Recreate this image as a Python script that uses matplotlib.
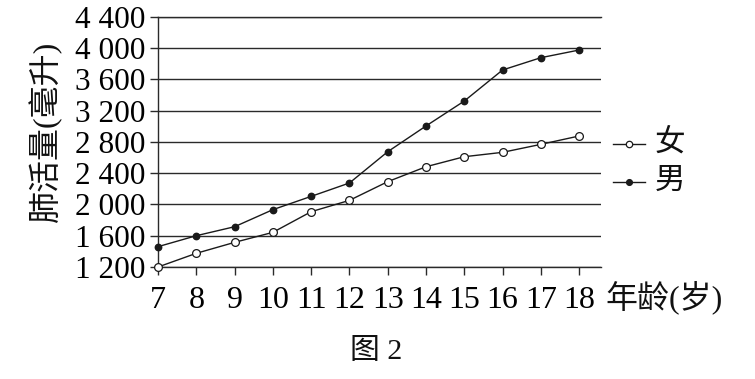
import matplotlib
matplotlib.use('Agg')
import matplotlib.pyplot as plt
from matplotlib.lines import Line2D

# ---- data ----
ages = [7, 8, 9, 10, 11, 12, 13, 14, 15, 16, 17, 18]
female = [1200, 1375, 1515, 1643, 1907, 2052, 2291, 2482, 2610, 2666, 2768, 2875]
male = [1460, 1600, 1715, 1933, 2103, 2274, 2674, 3003, 3322, 3719, 3876, 3974]
yticks = [1200, 1600, 2000, 2400, 2800, 3200, 3600, 4000, 4400]
ytick_labels = ['1 200', '1 600', '2 000', '2 400', '2 800', '3 200', '3 600', '4 000', '4 400']
series_labels = ['女', '男']
ylabel = '肺活量(毫升)'
xlabel = '年龄(岁)'
caption = '图 2'

W, H = 755, 379
fig = plt.figure(figsize=(W / 100, H / 100), dpi=100)
fig.patch.set_facecolor('white')

ax_left, ax_right, ax_top, ax_bottom = 158, 601, 16.7, 267
ax = fig.add_axes([ax_left / W, (H - ax_bottom) / H,
                   (ax_right - ax_left) / W, (ax_bottom - ax_top) / H])

ax.set_xlim(7, 18.57)
ax.set_ylim(1200, 4400)

line_col = '#1a1a1a'
grid_col = '#2a2a2a'

ax.plot(ages, male, color=line_col, lw=1.0, marker='o', ms=4.6,
        mfc=line_col, mec=line_col, zorder=3, clip_on=False)
ax.plot(ages, female, color=line_col, lw=1.0, marker='o', ms=5.6,
        mfc='white', mec=line_col, mew=0.9, zorder=4, clip_on=False)

ax.set_yticks(yticks)
ax.set_yticklabels(ytick_labels)
ax.set_xticks(ages)
ax.set_xticklabels([str(a) for a in ages])

serif = ['Liberation Serif', 'DejaVu Serif']
for lab in ax.get_yticklabels():
    lab.set_fontfamily(serif)
    lab.set_fontsize(22.5)
for lab in ax.get_xticklabels():
    lab.set_fontfamily(serif)
    lab.set_fontsize(23)

ax.yaxis.grid(True, color=grid_col, lw=1.0)
ax.set_axisbelow(True)
ax.tick_params(axis='y', direction='out', length=6, width=1.0, color=grid_col, pad=3)
ax.tick_params(axis='x', direction='out', length=6, width=1.0, color=grid_col, pad=8)
for s in ['left', 'top', 'bottom']:
    ax.spines[s].set_color(grid_col)
    ax.spines[s].set_linewidth(1.0)
ax.spines['right'].set_visible(False)

cjk = ['Liberation Serif', 'Noto Sans CJK SC']

fig.text(45 / W, (H - 131.5) / H, ylabel, rotation=90, ha='center', va='center',
         fontsize=23, family=cjk, color='#111')
fig.text(605 / W, (H - 297) / H, xlabel, ha='left', va='center',
         fontsize=23, family=cjk, color='#111')
fig.text(376 / W, (H - 351.7) / H, caption, ha='center', va='center',
         fontsize=21.5, family=cjk, color='#111')

# legend (manual)
leg_rows = [(series_labels[0], 144, 'white', 4.6), (series_labels[1], 181.7, line_col, 4.2)]
for text, yc, mfc, ms in leg_rows:
    yf = (H - yc) / H
    fig.add_artist(Line2D([612.7 / W, 645 / W], [yf, yf], color=line_col, lw=1.0,
                          transform=fig.transFigure))
    fig.add_artist(Line2D([629.3 / W], [yf], marker='o', ms=ms, mfc=mfc, mec=line_col,
                          mew=0.9, transform=fig.transFigure, lw=0))
    fig.text(655 / W, yf, text, ha='left', va='center', fontsize=22, family=cjk, color='#111')

fig.savefig('out.png', dpi=100, facecolor='white')
